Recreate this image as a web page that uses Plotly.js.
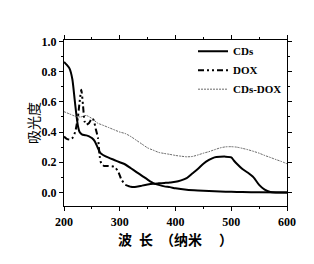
<!DOCTYPE html>
<html><head><meta charset="utf-8">
<script src="https://cdn.plot.ly/plotly-3.0.1.min.js"></script>
<style>html,body{margin:0;padding:0;background:#fff}#chart{width:314px;height:264px}</style>
</head><body><div id="chart"></div>
<script>
const seriesNames = ["CDs", "DOX", "CDs-DOX"];
const cdsWl  = [200,205,210,215,219,222,225,228,232,236,240,245,250,255,260,265,270,280,290,300,310,320,330,340,350,360,370,380,390,400,420,440,460,480,500,520,550,600];
const cdsAbs = [0.865,0.845,0.82,0.75,0.62,0.52,0.44,0.40,0.385,0.38,0.378,0.372,0.36,0.34,0.30,0.262,0.248,0.23,0.215,0.20,0.185,0.16,0.135,0.11,0.085,0.062,0.05,0.04,0.035,0.027,0.017,0.012,0.009,0.006,0.004,0.002,0.001,0.0];
const doxWl  = [200,205,210,215,220,225,228,231,234,237,240,245,250,253,257,261,264,267,272,280,290,297,303,310,320,330,340,350,360,370,380,390,400,410,420,430,440,450,460,470,480,490,500,505,510,520,530,540,550,560,570,580,590,600];
const doxAbs = [0.37,0.355,0.35,0.36,0.40,0.50,0.60,0.68,0.58,0.47,0.45,0.46,0.49,0.48,0.42,0.36,0.24,0.19,0.175,0.175,0.17,0.14,0.085,0.05,0.037,0.037,0.045,0.052,0.057,0.06,0.063,0.066,0.07,0.08,0.095,0.125,0.155,0.19,0.215,0.232,0.236,0.237,0.232,0.21,0.19,0.155,0.13,0.10,0.05,0.018,0.003,0.0,0.0,0.0];
const mixWl  = [200,210,220,230,240,250,260,270,280,290,300,310,320,330,340,350,360,370,380,390,400,410,420,430,440,450,460,470,480,490,500,510,520,530,540,550,560,570,580,590,600];
const mixAbs = [0.535,0.52,0.505,0.50,0.51,0.49,0.46,0.445,0.43,0.415,0.40,0.39,0.37,0.345,0.32,0.295,0.28,0.265,0.258,0.252,0.245,0.24,0.236,0.238,0.248,0.26,0.27,0.283,0.295,0.302,0.303,0.30,0.292,0.283,0.272,0.26,0.245,0.232,0.218,0.205,0.19];
const xTitle = "\u2002波\u2002长\u3000（纳米\u3000\u2009）";
const yTitle = "吸光度";
const xTicks = [200,300,400,500,600];
const yTicks = [0.0,0.2,0.4,0.6,0.8,1.0];

const splitAt = 310;
const doxDashX = [], doxDashY = [], doxSolidX = [], doxSolidY = [];
doxWl.forEach((w,i) => {
  if (w <= splitAt) { doxDashX.push(w); doxDashY.push(doxAbs[i]); }
  if (w >= splitAt) { doxSolidX.push(w); doxSolidY.push(doxAbs[i]); }
});

const serif = "Liberation Serif, Times New Roman, serif";
const traces = [
  {x: cdsWl, y: cdsAbs, name: seriesNames[0], mode: "lines", line: {color: "#000", width: 2, shape: "spline", smoothing: 0.6}},
  {x: doxDashX, y: doxDashY, name: seriesNames[1], mode: "lines", line: {color: "#000", width: 2, dash: "6px,3px,2px,3px,2px,3px", shape: "spline", smoothing: 0.6}},
  {x: doxSolidX, y: doxSolidY, name: seriesNames[1], showlegend: false, mode: "lines", line: {color: "#000", width: 2, shape: "spline", smoothing: 0.6}},
  {x: mixWl, y: mixAbs, name: seriesNames[2], mode: "lines", line: {color: "#444", width: 0.8, dash: "2px,1px", shape: "spline", smoothing: 0.6}}
];

const layout = {
  width: 314, height: 264,
  margin: {l: 64, r: 27, t: 40, b: 58},
  paper_bgcolor: "#fff", plot_bgcolor: "#fff",
  showlegend: true,
  legend: {x: 1, xanchor: "right", y: 1.02, yanchor: "top", bgcolor: "rgba(0,0,0,0)",
           font: {family: serif, size: 11, color: "#000", weight: "bold"}, tracegroupgap: 0, itemwidth: 30},
  xaxis: {
    range: [200, 600], tickvals: xTicks, ticktext: xTicks.map(String),
    showgrid: false, zeroline: false, showline: true, linecolor: "#000", linewidth: 1.2, mirror: "ticks",
    ticks: "outside", ticklen: 4, tickcolor: "#000", tickwidth: 1,
    minor: {dtick: 50, tick0: 200, ticks: "outside", ticklen: 2, tickcolor: "#000", showgrid: false},
    tickfont: {family: serif, size: 12, color: "#000", weight: "bold"},
    title: {text: xTitle, font: {family: "Noto Sans CJK SC", size: 14, color: "#000", weight: "bold"}, standoff: 6}
  },
  yaxis: {
    range: [-0.09, 1.01], tickvals: yTicks, ticktext: yTicks.map(v => v.toFixed(1)),
    showgrid: false, zeroline: false, showline: true, linecolor: "#000", linewidth: 1.2, mirror: "ticks",
    ticks: "outside", ticklen: 4, tickcolor: "#000", tickwidth: 1,
    minor: {dtick: 0.1, tick0: 0, ticks: "outside", ticklen: 2, tickcolor: "#000", showgrid: false},
    tickfont: {family: serif, size: 12, color: "#000", weight: "bold"}
  },
  annotations: [
    {text: yTitle, xref: "paper", yref: "paper", x: 0, y: 0.5, xanchor: "center", yanchor: "middle",
     xshift: -31, textangle: -90, showarrow: false, font: {family: "Noto Sans CJK SC", size: 14, color: "#000"}}
  ]
};
Plotly.newPlot("chart", traces, layout, {staticPlot: true, displayModeBar: false});
</script></body></html>
